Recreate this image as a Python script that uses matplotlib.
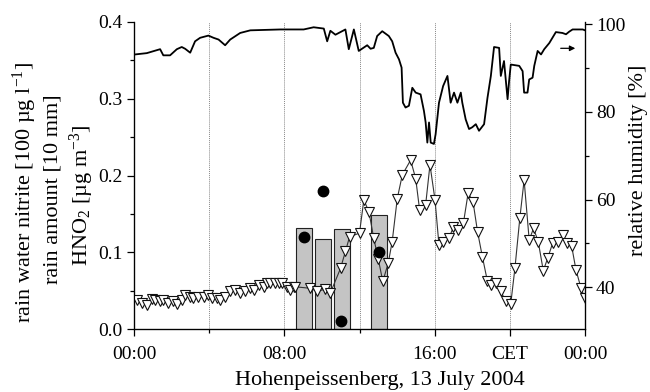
import matplotlib
matplotlib.use("Agg")
import matplotlib.pyplot as plt
from matplotlib.ticker import FixedLocator

plt.rcParams['font.family'] = ['Liberation Serif', 'DejaVu Serif']
plt.rcParams['mathtext.fontset'] = 'custom'
plt.rcParams['mathtext.rm'] = 'Liberation Serif'
plt.rcParams['mathtext.it'] = 'Liberation Serif:italic'
plt.rcParams['mathtext.bf'] = 'Liberation Serif:bold'

# ---- data (hours of day) ----
# rain amount bars [10 mm]
bar_t = [9.05, 10.04, 11.05, 13.05]
bar_v = [0.131, 0.117, 0.130, 0.148]
# rain water nitrite [100 ug/l]
nit_t = [9.03, 10.04, 11.04, 13.03]
nit_v = [0.120, 0.180, 0.010, 0.100]
# HNO2 [ug/m3]
hno2_t = [0.14, 0.41, 0.68, 0.94, 1.12, 1.39, 1.56, 1.83, 2.10, 2.28, 2.54, 2.72,
          2.99, 3.16, 3.43, 3.70, 3.96, 4.14, 4.41, 4.59, 4.85, 5.12, 5.39, 5.65,
          5.92, 6.19, 6.36, 6.63, 6.90, 7.08, 7.25, 7.52, 7.70, 7.88, 8.14, 8.32,
          8.50, 8.59, 9.39, 9.74, 10.19, 10.45, 10.99, 11.25, 11.47, 12.00, 12.23,
          12.50, 12.76, 13.00, 13.24, 13.53, 13.74, 14.01, 14.28, 14.72, 14.99,
          15.20, 15.52, 15.75, 16.02, 16.23, 16.46, 16.77, 17.00, 17.25, 17.53,
          17.78, 18.04, 18.28, 18.54, 18.81, 19.02, 19.25, 19.52, 19.79, 20.05,
          20.27, 20.53, 20.76, 21.03, 21.26, 21.51, 21.78, 22.01, 22.28, 22.54,
          22.81, 23.04, 23.29, 23.52, 23.79, 24.00]
hno2_v = [0.038, 0.034, 0.031, 0.039, 0.038, 0.036, 0.038, 0.034, 0.036, 0.033,
          0.038, 0.044, 0.042, 0.040, 0.042, 0.042, 0.044, 0.040, 0.040, 0.038,
          0.042, 0.049, 0.051, 0.047, 0.049, 0.053, 0.051, 0.057, 0.055, 0.060,
          0.060, 0.060, 0.060, 0.060, 0.055, 0.051, 0.055, 0.055, 0.053, 0.049,
          0.052, 0.047, 0.079, 0.101, 0.120, 0.125, 0.168, 0.153, 0.118, 0.091,
          0.062, 0.086, 0.114, 0.170, 0.201, 0.220, 0.196, 0.155, 0.162, 0.214,
          0.168, 0.109, 0.114, 0.119, 0.133, 0.129, 0.138, 0.177, 0.166, 0.127,
          0.094, 0.062, 0.057, 0.060, 0.049, 0.036, 0.033, 0.079, 0.144, 0.194,
          0.116, 0.131, 0.114, 0.076, 0.092, 0.112, 0.114, 0.122, 0.112, 0.108,
          0.077, 0.053, 0.040]
# relative humidity [%]
rh_t = [0.05, 0.68, 1.39, 1.56, 1.92, 2.28, 2.54, 2.72, 2.99, 3.25, 3.52, 3.96,
        4.23, 4.50, 4.85, 5.12, 5.65, 6.19, 7.79, 9.03, 9.56, 10.10, 10.28, 10.45,
        10.72, 11.25, 11.43, 11.70, 11.96, 12.41, 12.59, 12.76, 12.94, 13.21,
        13.56, 13.74, 13.92, 14.10, 14.24, 14.31, 14.45, 14.63, 14.81, 14.99,
        15.25, 15.43, 15.52, 15.61, 15.70, 15.79, 15.96, 16.05, 16.23, 16.45,
        16.68, 16.85, 17.03, 17.21, 17.39, 17.47, 17.65, 17.83, 18.00, 18.19,
        18.36, 18.63, 18.81, 18.99, 19.16, 19.43, 19.52, 19.69, 19.88, 19.96,
        20.05, 20.50, 20.68, 20.76, 20.94, 21.03, 21.21, 21.30, 21.48, 21.66,
        21.83, 22.10, 22.45, 22.80, 22.99, 23.16, 23.34, 23.88, 24.00]
rh_v = [93.1, 93.4, 94.3, 92.9, 92.9, 94.3, 94.8, 94.4, 93.5, 96.1, 96.9, 97.4,
        96.9, 96.5, 95.2, 96.5, 98.0, 98.6, 98.8, 98.8, 99.3, 99.0, 96.1, 98.5,
        97.6, 98.8, 94.3, 98.8, 93.9, 95.2, 94.4, 94.6, 97.3, 98.4,
        97.3, 96.1, 93.5, 92.0, 90.1, 82.1, 81.0, 81.4, 85.5, 84.4,
        84.0, 80.2, 77.6, 73.0, 77.6, 73.0, 72.7, 74.9, 82.1, 85.9,
        88.2, 82.1, 84.4, 82.1, 84.4, 82.1, 78.3, 76.1, 76.5, 77.2,
        75.7, 77.2, 83.2, 88.2, 94.8, 94.6, 88.2, 91.6, 82.9, 87.0,
        90.8, 90.5, 89.3, 84.4, 84.4, 87.4, 87.8, 90.5, 93.9, 93.1,
        94.3, 95.7, 98.2, 98.0, 97.7, 98.3, 98.8, 98.8, 98.6]

xtick_pos = [0, 8, 16, 20, 24]
xtick_lab = ['00:00', '08:00', '16:00', 'CET', '00:00']
ytick_pos = [0.0, 0.1, 0.2, 0.3, 0.4]
ytick_lab = ['0.0', '0.1', '0.2', '0.3', '0.4']

fig = plt.figure(figsize=(6.5, 3.92), dpi=100)
ax = fig.add_axes([134/650, 1-329/392, (585-134)/650, (329-22)/392])

for h in [4, 8, 12, 16, 20]:
    ax.axvline(h, color='#888888', ls=(0, (1, 1)), lw=0.7, zorder=0)

ax.bar(bar_t, bar_v, width=0.85, color='#c4c4c4', edgecolor='#222222', lw=0.8, zorder=2)
ax.plot(hno2_t, hno2_v, color='#333333', lw=0.8, marker='v', ms=7,
        mfc='white', mec='#111111', mew=0.8, zorder=3)
ax.plot(nit_t, nit_v, ls='none', marker='o', ms=7.5, color='black', zorder=4)

ax.set_xlim(0, 24)
ax.set_ylim(0, 0.4)
ax.xaxis.set_major_locator(FixedLocator(xtick_pos))
ax.set_xticklabels(xtick_lab)
ax.xaxis.set_minor_locator(FixedLocator([4, 12]))
ax.yaxis.set_major_locator(FixedLocator(ytick_pos))
ax.set_yticklabels(ytick_lab)
ax.yaxis.set_minor_locator(FixedLocator([0.05, 0.15, 0.25, 0.35]))
ax.tick_params(which='major', direction='out', length=5, width=0.9, labelsize=14, pad=3)
ax.tick_params(axis='x', which='major', pad=7)
ax.tick_params(which='minor', direction='out', length=3, width=0.9)
ax.spines['top'].set_visible(False)
for s in ['left', 'bottom']:
    ax.spines[s].set_linewidth(0.9)

ax2 = ax.twinx()
ax2.plot(rh_t, rh_v, color='black', lw=1.3, zorder=5)
ax2.set_ylim(30.5, 100.5)
ax2.yaxis.set_major_locator(FixedLocator([40, 60, 80, 100]))
ax2.yaxis.set_minor_locator(FixedLocator([50, 70, 90]))
ax2.tick_params(which='major', direction='out', length=5, width=0.9, labelsize=14, pad=3)
ax2.tick_params(which='minor', direction='out', length=3, width=0.9)
ax2.spines['top'].set_visible(False)
ax2.spines['right'].set_linewidth(0.9)
ax2.annotate('', xy=(23.63, 94.5), xytext=(22.56, 94.5),
             arrowprops=dict(arrowstyle='-|>', color='black', lw=0.9,
                             mutation_scale=8))

fig.text(25/650, 1-193/392, 'rain water nitrite [100 µg l$^{-1}$]', rotation=90,
         ha='center', va='center', fontsize=16)
fig.text(53/650, 1-189/392, 'rain amount [10 mm]', rotation=90,
         ha='center', va='center', fontsize=16)
fig.text(82/650, 1-195/392, 'HNO$_2$ [µg m$^{-3}$]', rotation=90,
         ha='center', va='center', fontsize=16)
fig.text(638/650, 1-160/392, 'relative humidity [%]', rotation=90,
         ha='center', va='center', fontsize=16)
fig.text(380/650, 1-381/392, 'Hohenpeissenberg, 13 July 2004',
         ha='center', va='center', fontsize=16)

fig.savefig('out.png', dpi=100)
